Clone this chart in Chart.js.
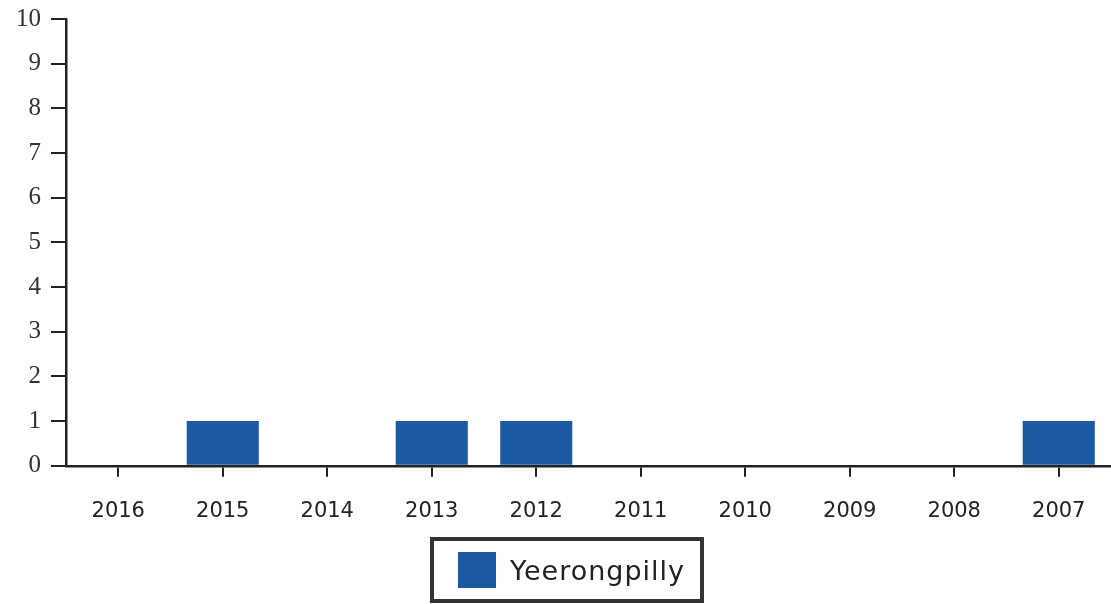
<!DOCTYPE html>
<html>
<head>
<meta charset="utf-8">
<script src="https://cdn.jsdelivr.net/npm/chart.js@4"></script>
<style>
  html, body { margin: 0; padding: 0; background: #fff; }
  #wrap { position: relative; width: 1111px; height: 604px; overflow: hidden; }
  /* Shifted up a little so the "10" tick sits near the top edge, as in the scan. */
  #chart-wrap { position: absolute; left: 0; top: -6px; width: 1111px; height: 552px; }
  #legend {
    position: absolute; left: 430px; top: 537px; width: 266px; height: 58px;
    border: 4px solid #333; box-sizing: content-box;
    display: flex; align-items: center;
    font-family: 'DejaVu Sans', sans-serif; font-size: 27px; letter-spacing: 1px; color: #222;
  }
  #legend .swatch { width: 38px; height: 36px; margin: 0 14px 0 24px; }
</style>
</head>
<body>
<div id="wrap">
  <div id="chart-wrap"><canvas id="chart"></canvas></div>
  <div id="legend"></div>
</div>
<script>
// Years run newest-to-oldest left-to-right, as in the original.
const YEARS = ['2016', '2015', '2014', '2013', '2012', '2011', '2010', '2009', '2008', '2007'];
const SERIES_LABEL = 'Yeerongpilly';
const COUNTS = [0, 1, 0, 1, 1, 0, 0, 0, 0, 1];
const Y_MIN = 0;
const Y_MAX = 10;

const BAR_BLUE = '#1b5aa2';
const AXIS_INK = '#222222';

new Chart(document.getElementById('chart').getContext('2d'), {
  type: 'bar',
  data: {
    labels: YEARS,
    datasets: [
      {
        label: SERIES_LABEL,
        data: COUNTS,
        backgroundColor: BAR_BLUE,
        borderWidth: 0,
        barPercentage: 0.69,
        categoryPercentage: 1,
      },
    ],
  },
  options: {
    responsive: true,
    maintainAspectRatio: false,
    animation: false,
    layout: { padding: { left: 6, top: 0, right: 0, bottom: 0 } },
    plugins: { legend: { display: false }, tooltip: { enabled: false } },
    scales: {
      x: {
        grid: { offset: false, drawOnChartArea: false, drawTicks: true, tickLength: 11, color: AXIS_INK, lineWidth: 2 },
        border: { display: true, color: AXIS_INK, width: 2.5 },
        ticks: { color: '#222', padding: 22, font: { family: "'DejaVu Sans', sans-serif", size: 21 } },
      },
      y: {
        min: Y_MIN,
        max: Y_MAX,
        grid: { drawOnChartArea: false, drawTicks: true, tickLength: 15, color: AXIS_INK, lineWidth: 2 },
        border: { display: true, color: AXIS_INK, width: 2.5 },
        ticks: { stepSize: 1, color: '#333', padding: 10, font: { family: "'Liberation Serif', serif", size: 25 } },
      },
    },
  },
});

// Boxed legend like the original, built from the dataset label.
const legend = document.getElementById('legend');
legend.innerHTML = `<span class="swatch" style="background:${BAR_BLUE}"></span><span>${SERIES_LABEL}</span>`;
</script>
</body>
</html>
